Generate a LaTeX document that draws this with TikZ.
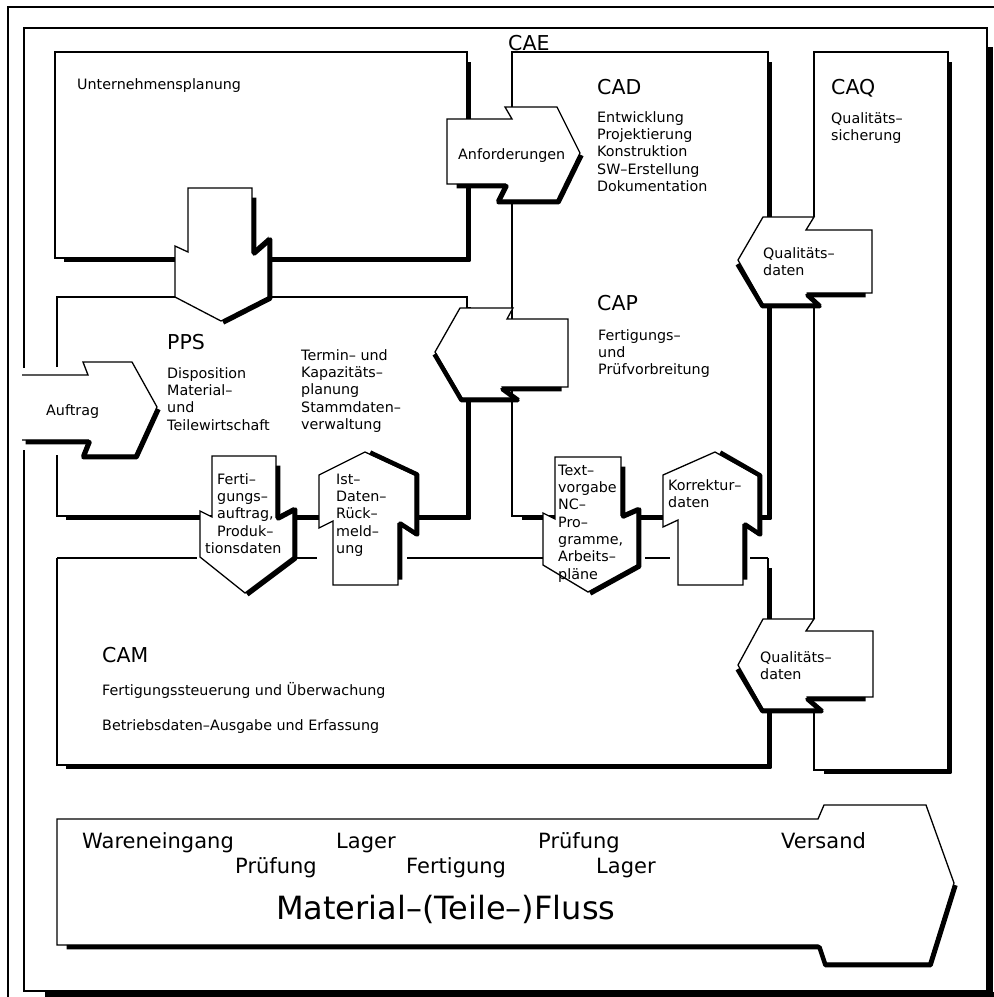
\documentclass[tikz,border=0pt]{standalone}
\usepackage{fontspec}
\setmainfont{DejaVu Sans}
% first-line strut for multi-line labels placed by their top edge
\newcommand{\topstrut}{\rule{0pt}{11pt}}
% block arrow: #1 outline, #2 shadowed edges, #3 shadow offset
\newcommand{\flowarrow}[3]{%
  \fill[white] #1 -- cycle;
  \draw[shadowline, shift={#3}] #2;
  \draw[edge] #1 -- cycle;}
\begin{document}
\begin{tikzpicture}[x=1pt, y=-1pt,
  edge/.style={line width=1.3pt, line join=miter},
  wall/.style={line width=1.3pt},
  shadowline/.style={line width=4.5pt, line join=round},
  border/.style={line width=2.2pt},
  small/.style={font=\fontsize{14.3}{17.3}\selectfont, inner sep=0pt, align=left, anchor=north west},
  label/.style={font=\fontsize{14.3}{17.3}\selectfont, inner sep=0pt, anchor=base west},
  big/.style={font=\fontsize{20.5}{24}\selectfont, inner sep=0pt, anchor=base west},
  flow/.style={font=\fontsize{21}{25}\selectfont, inner sep=0pt, anchor=base west},
]
\useasboundingbox (0,0) rectangle (994,997);

% outer border
\draw[border] (994,7) -- (8,7) -- (8,997);

% overall frame with shadow
\draw[wall] (24,368) -- (24,28) -- (987,28) -- (987,991) -- (24,991) -- (24,450);
\draw[line width=5pt] (990.5,47) -- (990.5,997);
\draw[line width=5pt] (45,994.5) -- (994,994.5);

% Unternehmensplanung
\draw[wall] (55,52) rectangle (467,258);
\draw[shadowline, shift={(2.2,2.2)}] (467,60) -- (467,258) -- (62,258);

% PPS
\draw[wall] (57,367) -- (57,297) -- (467,297) -- (467,516) -- (57,516) -- (57,455);
\draw[shadowline, shift={(2.2,2.2)}] (467,305) -- (467,516) -- (64,516);

% CAD / CAP
\draw[wall] (512,52) rectangle (768,516);
\draw[shadowline, shift={(2.2,2.2)}] (768,60) -- (768,516) -- (520,516);

% CAQ
\draw[wall] (814,217) -- (814,52) -- (948,52) -- (948,770) -- (814,770) -- (814,709);
\draw[wall] (814,304) -- (814,619);
\draw[shadowline, shift={(2.2,2.2)}] (948,60) -- (948,770) -- (822,770);

% CAM
\draw[wall] (57,558) -- (57,765) -- (768,765) -- (768,558);
\draw[wall] (57,558) -- (197,558) (297,558) -- (317,558) (407,558) -- (543,558)
            (645,558) -- (670,558) (750,558) -- (768,558);
\draw[shadowline, shift={(2.2,2.2)}] (768,566) -- (768,765) -- (64,765);

% Unternehmensplanung -> PPS
\flowarrow{(188,188) -- (252,188) -- (252,252) -- (268,238) -- (268,297) -- (221,321) -- (175,297) -- (175,246) -- (188,252)}
          {(252,196) -- (252,252) -- (268,238) -- (268,297) -- (221,321)}{(2.2,1.5)}
% Anforderungen
\flowarrow{(447,119) -- (512,119) -- (505,107) -- (557,107) -- (580,153) -- (557,200) -- (497,200) -- (505,184) -- (447,184)}
          {(455,184) -- (505,184) -- (497,200) -- (557,200) -- (580,153)}{(1.5,2.2)}
% CAP -> PPS
\flowarrow{(435,352) -- (460,308) -- (513,308) -- (507,319) -- (568,319) -- (568,387) -- (503,387) -- (518,398) -- (462,398)}
          {(435,352) -- (462,398) -- (518,398) -- (503,387) -- (562,387)}{(-0.5,2.2)}
% Auftrag (open tail through the frame)
\fill[white] (18,375) -- (88,375) -- (83,362) -- (132,362) -- (157,407) -- (135,455) -- (82,455) -- (88,440) -- (18,440) -- cycle;
\draw[shadowline, shift={(1.5,2.2)}] (24,440) -- (88,440) -- (82,455) -- (135,455) -- (157,407);
\draw[edge] (22,375) -- (88,375) -- (83,362) -- (132,362) -- (157,407) -- (135,455) -- (82,455) -- (88,440) -- (22,440);
% Fertigungsauftrag
\flowarrow{(212,456) -- (276,456) -- (276,517) -- (293,508) -- (293,557) -- (245,593) -- (200,557) -- (200,511) -- (212,517)}
          {(276,464) -- (276,517) -- (293,508) -- (293,557) -- (245,593)}{(2.2,1.5)}
% Ist-Daten-Rueckmeldung
\flowarrow{(365,452) -- (415,475) -- (415,535) -- (398,524) -- (398,585) -- (333,585) -- (333,521) -- (319,528) -- (319,475)}
          {(368,453) -- (415,475) -- (415,535) -- (398,524) -- (398,580)}{(2.2,-0.5)}
% Textvorgabe
\flowarrow{(555,457) -- (621,457) -- (621,515) -- (637,508) -- (637,565) -- (588,592) -- (543,565) -- (543,513) -- (555,519)}
          {(621,465) -- (621,515) -- (637,508) -- (637,565) -- (588,592)}{(2.2,1.5)}
% Korrekturdaten
\flowarrow{(715,452) -- (758,476) -- (758,535) -- (743,525) -- (743,585) -- (678,585) -- (678,520) -- (663,527) -- (663,475)}
          {(718,453) -- (758,476) -- (758,535) -- (743,525) -- (743,580)}{(2.2,-0.5)}
% Qualitaetsdaten (upper)
\flowarrow{(738,260) -- (763,217) -- (814,217) -- (806,230) -- (872,230) -- (872,293) -- (808,293) -- (820,304) -- (763,304)}
          {(738,262) -- (763,304) -- (820,304) -- (808,293) -- (866,293)}{(-0.5,2.2)}
% Qualitaetsdaten (lower)
\flowarrow{(738,665) -- (763,619) -- (814,619) -- (806,631) -- (873,631) -- (873,697) -- (808,697) -- (822,709) -- (763,709)}
          {(738,667) -- (763,709) -- (822,709) -- (808,697) -- (866,697)}{(-0.5,2.2)}
% material flow
\flowarrow{(57,819) -- (818,819) -- (824,805) -- (926,805) -- (954,883) -- (929,963) -- (824,963) -- (818,945) -- (57,945)}
          {(65,945) -- (818,945) -- (824,963) -- (929,963) -- (954,883)}{(1.5,2.2)}

% labels
\node[big] (cae) at (508,50) {CAE};
\node[label] (unt) at (77,89) {Unternehmensplanung};
\node[big] (cad) at (597,94) {CAD};
\node[small] (cadtxt) at (597,111) {\topstrut Entwicklung\\Projektierung\\Konstruktion\\SW–Erstellung\\Dokumentation};
\node[big] (caq) at (831,94) {CAQ};
\node[small] (caqtxt) at (831,112) {\topstrut Qualitäts–\\sicherung};
\node[big] (cap) at (597,310) {CAP};
\node[small] (captxt) at (598,329) {\topstrut Fertigungs–\\und\\Prüfvorbreitung};
\node[big] (pps) at (167,349) {PPS};
\node[small] (ppstxt) at (167,367) {\topstrut Disposition\\Material–\\und\\Teilewirtschaft};
\node[small] (termin) at (301,349) {\topstrut Termin– und\\Kapazitäts–\\planung\\Stammdaten–\\verwaltung};
\node[label] (auftrag) at (46,415) {Auftrag};
\node[label] (anf) at (458,159) {Anforderungen};
\node[small] (fa) at (217,473) {\topstrut Ferti–\\gungs–\\auftrag,\\Produk–\\\hspace*{-12pt}tionsdaten};
\node[small] (ist) at (336,473) {\topstrut Ist–\\Daten–\\Rück–\\meld–\\ung};
\node[small] (tv) at (558,464) {\topstrut Text–\\vorgabe\\NC–\\Pro–\\gramme,\\Arbeits–\\pläne};
\node[small] (kd) at (668,479) {\topstrut Korrektur–\\daten};
\node[small] (qd1) at (763,247) {\topstrut Qualitäts–\\daten};
\node[small] (qd2) at (760,651) {\topstrut Qualitäts–\\daten};
\node[big] (cam) at (102,662) {CAM};
\node[label] (camt1) at (102,695) {Fertigungssteuerung und Überwachung};
\node[label] (camt2) at (102,730) {Betriebsdaten–Ausgabe und Erfassung};

% material flow labels
\node[flow] (wein) at (82,848) {Wareneingang};
\node[flow] (lag1) at (336,848) {Lager};
\node[flow] (pr1) at (538,848) {Prüfung};
\node[flow] (vers) at (781,848) {Versand};
\node[flow] (pr2) at (235,873) {Prüfung};
\node[flow] (fert) at (406,873) {Fertigung};
\node[flow] (lag2) at (596,873) {Lager};
\node[font=\fontsize{32}{36}\selectfont, inner sep=0pt, anchor=base west] (mf) at (276,919) {Material–(Teile–)Fluss};
\end{tikzpicture}
\end{document}
